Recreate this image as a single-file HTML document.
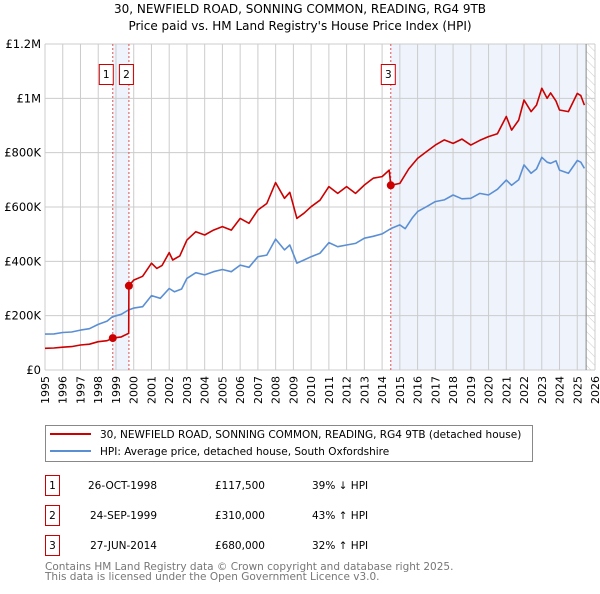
<!DOCTYPE html>
<html><head><meta charset="utf-8">
<style>
body{margin:0;background:#fff;font-family:"DejaVu Sans","Liberation Sans",sans-serif;}
svg text{font-family:"DejaVu Sans","Liberation Sans",sans-serif;}
</style></head>
<body>
<svg id="chart" width="600" height="590" viewBox="0 0 600 590" xmlns="http://www.w3.org/2000/svg">
<defs>
<pattern id="hatch" width="6" height="6" patternUnits="userSpaceOnUse" patternTransform="rotate(-45)">
<line x1="0" y1="0" x2="0" y2="6" stroke="#ccc" stroke-width="1"/>
</pattern>
</defs>
<text x="300" y="13" text-anchor="middle" font-size="12">30, NEWFIELD ROAD, SONNING COMMON, READING, RG4 9TB</text>
<text x="300" y="30" text-anchor="middle" font-size="12">Price paid vs. HM Land Registry's House Price Index (HPI)</text>
<g id="bg"></g>
<g id="grid"></g>
<g id="marks"></g>
<g id="axes"></g>
<g>
<rect x="45.5" y="425.5" width="487" height="36" fill="#fff" stroke="#888"/>
<line x1="50" y1="434" x2="91" y2="434" stroke="#cc0000" stroke-width="2"/>
<text x="100" y="438" font-size="10.5">30, NEWFIELD ROAD, SONNING COMMON, READING, RG4 9TB (detached house)</text>
<line x1="50" y1="451" x2="91" y2="451" stroke="#5b8fd4" stroke-width="2"/>
<text x="100" y="455" font-size="10.5">HPI: Average price, detached house, South Oxfordshire</text>
</g>
<g font-size="10.5">
<rect x="45.5" y="475.5" width="14" height="20" fill="#fff" stroke="#cc0000"/><text x="52.5" y="489" text-anchor="middle">1</text>
<text x="157" y="489" text-anchor="end">26-OCT-1998</text><text x="265" y="489" text-anchor="end">£117,500</text><text x="312" y="489">39% ↓ HPI</text>
<rect x="45.5" y="505.5" width="14" height="20" fill="#fff" stroke="#cc0000"/><text x="52.5" y="519" text-anchor="middle">2</text>
<text x="157" y="519" text-anchor="end">24-SEP-1999</text><text x="265" y="519" text-anchor="end">£310,000</text><text x="312" y="519">43% ↑ HPI</text>
<rect x="45.5" y="535.5" width="14" height="20" fill="#fff" stroke="#cc0000"/><text x="52.5" y="549" text-anchor="middle">3</text>
<text x="157" y="549" text-anchor="end">27-JUN-2014</text><text x="265" y="549" text-anchor="end">£680,000</text><text x="312" y="549">32% ↑ HPI</text>
</g>
<text x="45" y="570" font-size="10.5" fill="#777">Contains HM Land Registry data © Crown copyright and database right 2025.</text>
<text x="45" y="580" font-size="10.5" fill="#777">This data is licensed under the Open Government Licence v3.0.</text>
</svg>
<script>
const hpiYears=[1995,1995.5,1996,1996.5,1997,1997.5,1998,1998.5,1998.8,1999.3,1999.7,2000,2000.5,2001,2001.5,2002,2002.3,2002.7,2003,2003.5,2004,2004.5,2005,2005.5,2006,2006.5,2007,2007.5,2008,2008.5,2008.8,2009.2,2009.6,2010,2010.5,2011,2011.5,2012,2012.5,2013,2013.5,2014,2014.5,2015,2015.3,2015.7,2016,2016.5,2017,2017.5,2018,2018.5,2019,2019.5,2020,2020.5,2021,2021.3,2021.7,2022,2022.4,2022.7,2023,2023.3,2023.5,2023.8,2024,2024.5,2025,2025.2,2025.4];
const hpiValues=[132,133,138,140,147,152,168,180,196,205,221,228,233,274,264,300,288,298,337,358,350,362,370,362,386,378,417,423,482,442,460,393,405,417,430,469,454,460,466,485,492,501,521,534,520,560,583,601,620,626,644,630,632,650,644,665,699,680,700,755,724,740,783,765,761,770,736,724,771,765,742];
const saleYears=[1998.82,1999.73,2014.49];
const saleValues=[117.5,310,680];
const propYears=[1995,1995.5,1996,1996.5,1997,1997.5,1998,1998.5,1998.82,1999.3,1999.72,1999.73,2000,2000.5,2001,2001.3,2001.6,2002,2002.2,2002.6,2003,2003.5,2004,2004.5,2005,2005.5,2006,2006.5,2007,2007.5,2008,2008.5,2008.8,2009.2,2009.6,2010,2010.5,2011,2011.5,2012,2012.5,2013,2013.5,2014,2014.4,2014.49,2015,2015.5,2016,2016.5,2017,2017.5,2018,2018.5,2019,2019.5,2020,2020.5,2021,2021.3,2021.7,2022,2022.4,2022.7,2023,2023.3,2023.5,2023.8,2024,2024.5,2025,2025.2,2025.4];
const propValues=[80,81,84,86,92,95,104,108,117.5,122,135,310,331,345,393,374,385,432,405,420,478,509,497,515,528,515,558,540,589,613,690,632,654,558,577,601,625,675,650,675,650,681,706,712,736,680,687,740,779,804,828,847,834,850,828,845,859,870,933,883,920,994,951,975,1037,1000,1020,990,957,951,1018,1010,975];
const yTicks=[0,200,400,600,800,1000,1200];
const yLabels=["£0","£200K","£400K","£600K","£800K","£1M","£1.2M"];
const xTicks=[1995,1996,1997,1998,1999,2000,2001,2002,2003,2004,2005,2006,2007,2008,2009,2010,2011,2012,2013,2014,2015,2016,2017,2018,2019,2020,2021,2022,2023,2024,2025,2026];

const X0=45,X1=595,Y0=370,Y1=44;
const xs=y=>X0+(y-1995)/(2026-1995)*(X1-X0);
const ys=v=>Y0-v/1200*(Y0-Y1);
const NS="http://www.w3.org/2000/svg";
function mk(parent,tag,attrs){const e=document.createElementNS(NS,tag);for(const k in attrs)e.setAttribute(k,attrs[k]);document.getElementById(parent).appendChild(e);return e;}

let r=mk('bg','rect',{x:xs(saleYears[0]),y:Y1,width:xs(saleYears[1])-xs(saleYears[0]),height:Y0-Y1,fill:'#eef3fc'});


r=mk('bg','rect',{x:xs(saleYears[2]),y:Y1,width:xs(2025.5)-xs(saleYears[2]),height:Y0-Y1,fill:'#eef3fc'});


r=mk('bg','rect',{x:xs(2025.5),y:Y1,width:X1-xs(2025.5),height:Y0-Y1,fill:'url(#hatch)'});



xTicks.forEach(t=>{const l=mk('grid','line',{x1:xs(t),x2:xs(t),y1:Y1,y2:Y0,stroke:'#ccc','stroke-width':1});


const tx=mk('axes','text',{x:0,y:0,transform:`translate(${xs(t)+4},${Y0+6}) rotate(-90)`,'text-anchor':'end','font-size':11});
tx.textContent=t;

});
yTicks.forEach((t,i)=>{const l=mk('grid','line',{x1:X0,x2:X1,y1:ys(t),y2:ys(t),stroke:'#ccc','stroke-width':1});


const tx=mk('axes','text',{x:X0-4,y:ys(t)+4,'text-anchor':'end','font-size':11.5});
tx.textContent=yLabels[i];

});
let ln=mk('grid','line',{x1:xs(2025.5),x2:xs(2025.5),y1:Y1,y2:Y0,stroke:'#888'});



saleYears.forEach((y,i)=>{const l=mk('marks','line',{x1:xs(y),x2:xs(y),y1:Y1,y2:Y0,stroke:'#e05050','stroke-width':1,'stroke-dasharray':'2,2'});


const bx=xs(y)+(i==0?-6:i==1?-2:-2);
const rr=mk('marks','rect',{x:bx-7.5,y:64.5,width:14,height:20,fill:'#fff',stroke:'#cc0000'});


const t=mk('marks','text',{x:bx-0.5,y:78,'text-anchor':'middle','font-size':10.5});t.textContent=i+1;

});

const path=(ys_,vs,col,name)=>{const p=mk('marks','path',{d:ys_.map((y,i)=>(i?'L':'M')+xs(y).toFixed(1)+','+ys(vs[i]).toFixed(1)).join(''),fill:'none',stroke:col,'stroke-width':1.6,'stroke-linejoin':'round'});

};
path(hpiYears,hpiValues,'#5b8fd4','hpi-line');
path(propYears,propValues,'#cc0000','property-line');
saleYears.forEach((y,i)=>{const c=mk('marks','circle',{cx:xs(y),cy:ys(saleValues[i]),r:4,fill:'#cc0000'});

});
</script>
</body></html>
